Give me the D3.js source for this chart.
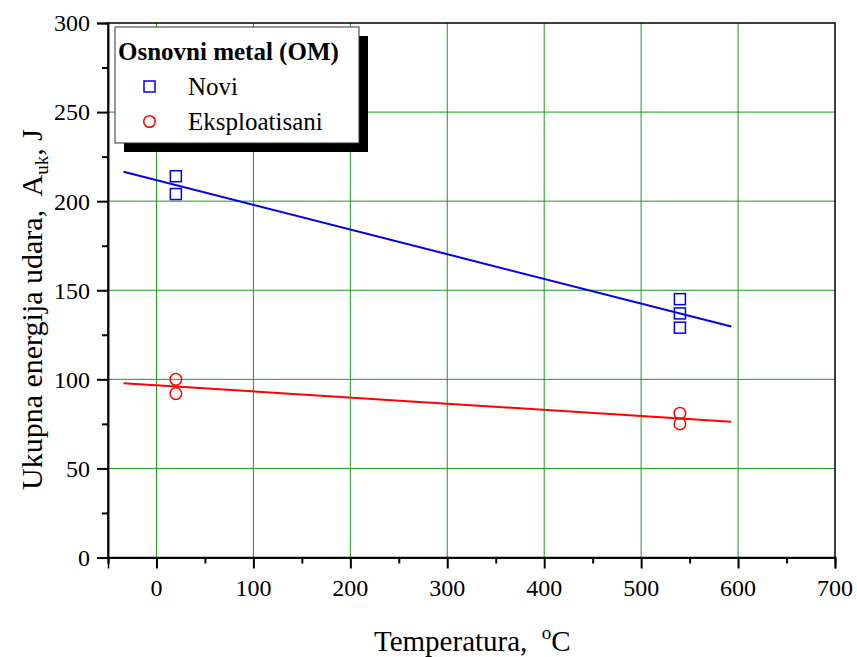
<!DOCTYPE html>
<html><head><meta charset="utf-8">
<script src="https://cdn.jsdelivr.net/npm/d3@7"></script>
<style>body{margin:0;background:#fff}svg{display:block}text{font-family:"Liberation Serif","Times New Roman",serif;white-space:pre}</style>
</head><body>
<script>
const noviT = [20, 20, 540, 540, 540];
const noviE = [214, 204, 145, 137, 129];
const ekspT = [20, 20, 540, 540];
const ekspE = [100, 92, 81, 75];
const fitRange = [-34, 593];
const xTicks = [0, 100, 200, 300, 400, 500, 600, 700];
const yTicks = [0, 50, 100, 150, 200, 250, 300];
const legendTitle = "Osnovni metal (OM)";
const seriesNames = ["Novi", "Eksploatisani"];

const W = 857, H = 657;
const svg = d3.select("body").append("svg").attr("width", W).attr("height", H);
const x = d3.scaleLinear().domain([-50, 700]).range([108, 835]);
const y = d3.scaleLinear().domain([0, 300]).range([557.5, 23]);
const green = "#1a9a1a";

// grid
svg.append("g").selectAll("line").data(xTicks.filter(d => d > -50 && d < 700)).join("line")
  .attr("x1", d => x(d)).attr("x2", d => x(d)).attr("y1", y(0)).attr("y2", y(300))
  .attr("stroke", green).attr("stroke-width", 1);
svg.append("g").selectAll("line").data(yTicks.filter(d => d > 0 && d < 300)).join("line")
  .attr("y1", d => y(d)).attr("y2", d => y(d)).attr("x1", x(-50)).attr("x2", x(700))
  .attr("stroke", green).attr("stroke-width", 1);

// frame
svg.append("rect").attr("x", x(-50)).attr("y", y(300)).attr("width", x(700) - x(-50)).attr("height", y(0) - y(300))
  .attr("fill", "none").attr("stroke", "#000").attr("stroke-width", 1.5);

// axes (tick marks via d3.axis, labels drawn separately)
const xAxis = svg.append("g").attr("transform", `translate(0,${y(0)})`)
  .call(d3.axisBottom(x).tickValues(xTicks).tickSize(11).tickFormat(""));
const xMinor = svg.append("g").attr("transform", `translate(0,${y(0)})`)
  .call(d3.axisBottom(x).tickValues(d3.range(-50, 701, 100)).tickSize(6).tickFormat(""));
const yAxis = svg.append("g").attr("transform", `translate(${x(-50)},0)`)
  .call(d3.axisLeft(y).tickValues(yTicks).tickSize(11).tickFormat(""));
const yMinor = svg.append("g").attr("transform", `translate(${x(-50)},0)`)
  .call(d3.axisLeft(y).tickValues(d3.range(25, 300, 50)).tickSize(6).tickFormat(""));
[xAxis, xMinor, yAxis, yMinor].forEach(g => {
  g.select(".domain").attr("stroke", "#000").attr("stroke-width", 1.5);
  g.selectAll(".tick line").attr("stroke", "#000").attr("stroke-width", 2);
});
svg.append("g").selectAll("text").data(xTicks).join("text")
  .attr("x", d => x(d)).attr("y", y(0) + 38).attr("text-anchor", "middle")
  .style("font-size", "24px").attr("fill", "#000").text(d => d);
svg.append("g").selectAll("text").data(yTicks).join("text")
  .attr("x", x(-50) - 18).attr("y", d => y(d)).attr("dy", "0.35em").attr("text-anchor", "end")
  .style("font-size", "24px").attr("fill", "#000").text(d => d);

// regression lines
function fit(xs, ys) {
  const mx = d3.mean(xs), my = d3.mean(ys);
  const sxy = d3.sum(xs, (v, i) => (v - mx) * (ys[i] - my));
  const sxx = d3.sum(xs, v => (v - mx) ** 2);
  const b = sxy / sxx, a = my - b * mx;
  return fitRange.map(t => [t, a + b * t]);
}
const line = d3.line().x(d => x(d[0])).y(d => y(d[1]));
svg.append("path").attr("d", line(fit(noviT, noviE))).attr("stroke", "#0000ee").attr("stroke-width", 2).attr("fill", "none");
svg.append("path").attr("d", line(fit(ekspT, ekspE))).attr("stroke", "#ff0000").attr("stroke-width", 2).attr("fill", "none");

// points
svg.append("g").selectAll("rect").data(noviT.map((t, i) => [t, noviE[i]])).join("rect")
  .attr("x", d => x(d[0]) - 5.5).attr("y", d => y(d[1]) - 5.5).attr("width", 11).attr("height", 11)
  .attr("fill", "none").attr("stroke", "#0000ee").attr("stroke-width", 1.5);
svg.append("g").selectAll("circle").data(ekspT.map((t, i) => [t, ekspE[i]])).join("circle")
  .attr("cx", d => x(d[0])).attr("cy", d => y(d[1])).attr("r", 5.8)
  .attr("fill", "none").attr("stroke", "#ff0000").attr("stroke-width", 1.5);

// legend
const lg = svg.append("g");
lg.append("rect").attr("x", 124).attr("y", 36).attr("width", 244).attr("height", 116).attr("fill", "#000");
lg.append("rect").attr("x", 115).attr("y", 27).attr("width", 244).attr("height", 116).attr("fill", "#fff").attr("stroke", "#333").attr("stroke-width", 1);
lg.append("text").attr("x", 118).attr("y", 60).style("font-size", "25px").attr("font-weight", "bold").text(legendTitle);
lg.append("rect").attr("x", 144).attr("y", 81).attr("width", 11).attr("height", 11).attr("fill", "none").attr("stroke", "#0000ee").attr("stroke-width", 1.5);
lg.append("circle").attr("cx", 149.5).attr("cy", 121.5).attr("r", 5.8).attr("fill", "none").attr("stroke", "#ff0000").attr("stroke-width", 1.5);
lg.append("text").attr("x", 188).attr("y", 95).style("font-size", "25px").text(seriesNames[0]);
lg.append("text").attr("x", 188).attr("y", 130).style("font-size", "25px").text(seriesNames[1]);

// axis titles
const xt = svg.append("text").attr("x", 374).attr("y", 651).style("font-size", "29px");
xt.append("tspan").text("Temperatura,  ");
xt.append("tspan").style("font-size", "19px").attr("dy", -12).text("o");
xt.append("tspan").attr("dy", 12).text("C");

const yt = svg.append("text").attr("transform", "translate(42,490) rotate(-90)").style("font-size", "30px");
yt.append("tspan").text("Ukupna energija udara,  A");
yt.append("tspan").style("font-size", "19px").attr("dy", 6).text("uk");
yt.append("tspan").attr("dy", -6).text(", J");
</script>
</body></html>
